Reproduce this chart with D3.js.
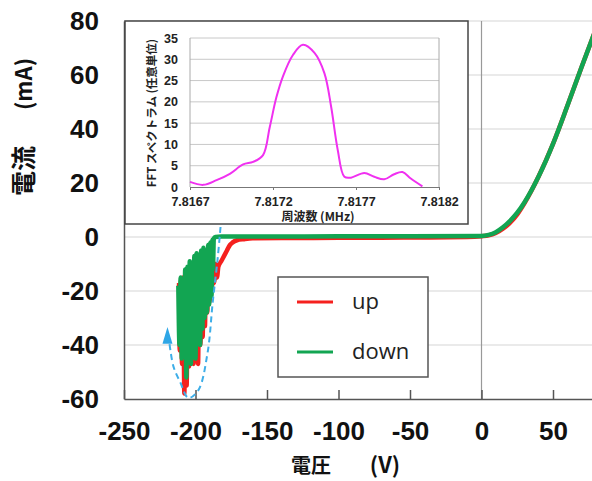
<!DOCTYPE html>
<html>
<head>
<meta charset="utf-8">
<script src="https://cdn.jsdelivr.net/npm/d3@7"></script>
<style>
  body { margin: 0; background: #fff; }
  svg { display: block; }
  .num { font-family: "Liberation Sans", Arial, sans-serif; font-weight: bold; }
  .jp { font-family: "Noto Sans CJK JP", sans-serif; }
</style>
</head>
<body>
<svg width="592" height="481"></svg>
<script>
// ---- data ----
const xTicks = [-250, -200, -150, -100, -50, 0, 50];
const yTicks = [-60, -40, -20, 0, 20, 40, 60, 80];

// "up" sweep (voltage V, current mA)
const upData = [
  [-211.5, -17], [-211, -42], [-210.2, -16], [-209.4, -47], [-208.6, -15], [-207.8, -58],
  [-207, -14], [-206.2, -55], [-205.4, -20], [-204.6, -48], [-203.8, -12], [-203, -44],
  [-202.2, -10], [-201.4, -47], [-200.6, -18], [-199.8, -45], [-199, -9], [-198.2, -47],
  [-197.4, -8], [-196.6, -40], [-195.8, -14], [-195, -37], [-194.2, -7], [-193.4, -33],
  [-192.6, -6], [-191.8, -28], [-191, -10], [-190.2, -24], [-189.4, -5], [-188.6, -20],
  [-187.8, -9], [-187, -17], [-186, -10], [-185, -15], [-184, -11], [-182, -9],
  [-180, -7], [-178, -5], [-176, -3], [-174, -2], [-171, -1.2], [-166, -0.8],
  [-160, -0.5], [-140, -0.4], [-100, -0.3], [-50, -0.2], [-10, 0], [0, 0.3],
  [5, 0.6], [10, 1.5], [15, 3.1], [20, 5.3], [25, 8.4], [30, 12.5], [40, 22.5],
  [50, 34.5], [60, 48.5], [70, 63], [80, 77]
];

// "down" sweep (voltage V, current mA)
const downData = [
  [-212, -18], [-211.2, -40], [-210.4, -15], [-209.6, -45], [-208.8, -22], [-208, -44],
  [-207.2, -12], [-206.4, -52], [-205.6, -11], [-204.8, -42], [-204, -9], [-203.2, -47],
  [-202.4, -16], [-201.6, -43], [-200.8, -7], [-200, -45], [-199.2, -6], [-198.4, -38],
  [-197.6, -12], [-196.8, -40], [-196, -5], [-195.2, -34], [-194.4, -4], [-193.6, -30],
  [-192.8, -9], [-192, -28], [-191.2, -3], [-190.4, -25], [-189.6, -2], [-188.8, -22],
  [-188.2, -1], [-187.8, -12], [-187.2, -0.5], [-186, 0], [-182, 0.2], [-150, 0.2],
  [-100, 0.25], [-50, 0.3], [0, 0.4], [5, 0.8], [10, 1.8], [15, 3.6], [20, 6],
  [25, 9], [30, 12.8], [40, 22.5], [50, 34.5], [60, 48.5], [70, 63], [80, 77]
];

// dashed annotation around the oscillation (V, mA)
const arrowPath = [
  [-182.5, 3.7], [-184.6, -8.5], [-188, -24.4], [-191.6, -43], [-198, -56.7],
  [-205, -59.6], [-210.5, -54], [-215.4, -48], [-218.3, -39]
];

// FFT inset
const fftTicksX = [7.8167, 7.8172, 7.8177, 7.8182];
const fftTicksY = [0, 5, 10, 15, 20, 25, 30, 35];
const fftFreq = [
  7.81670, 7.81678, 7.81686, 7.81694, 7.81702, 7.81708, 7.81714, 7.81718, 7.81722,
  7.81726, 7.81732, 7.81738, 7.81745, 7.81751, 7.81755, 7.81759, 7.81763, 7.81767,
  7.81775, 7.81781, 7.81787, 7.81793, 7.81798, 7.81803, 7.81810
];
const fftAmp = [
  1.2, 0.5, 1.6, 3.1, 5.3, 5.9, 7.5, 14, 21, 26, 31, 33.4, 31.5, 26.7, 18.9, 8.7,
  2.4, 2.2, 3.3, 2.4, 1.8, 3, 3.5, 2, 0.15
];

const svg = d3.select("svg");

// main scales
const x = d3.scaleLinear().domain([-250, 100]).range([124, 624.5]);
const y = d3.scaleLinear().domain([-60, 80]).range([399, 21]);

// gridlines
svg.append("g")
  .selectAll("line")
  .data(yTicks.filter(d => d > -60))
  .enter()
  .append("line")
  .attr("x1", 124).attr("x2", 592)
  .attr("y1", d => y(d)).attr("y2", d => y(d))
  .style("stroke", "#d6d6d6").style("stroke-width", 1.2);

// zero voltage line
svg.append("line")
  .attr("x1", x(0)).attr("x2", x(0))
  .attr("y1", y(80)).attr("y2", y(-60))
  .style("stroke", "#999").style("stroke-width", 1.2);

// axes
const xAxis = svg.append("g")
  .attr("transform", `translate(0,${y(-60)})`)
  .call(d3.axisBottom(x).tickValues(xTicks).tickSize(-9).tickPadding(23).tickSizeOuter(0)
    .tickFormat(d => String(d)));
xAxis.select(".domain").style("stroke", "#555").style("stroke-width", 1.5);
xAxis.selectAll(".tick line").style("stroke", "#555").style("stroke-width", 1.5);
xAxis.selectAll("text").attr("class", "num").style("font-size", "26px").style("fill", "#111");

const yAxis = svg.append("g")
  .attr("transform", `translate(${x(-250)},0)`)
  .call(d3.axisLeft(y).tickValues(yTicks).tickSize(0).tickPadding(25)
    .tickFormat(d => String(d)));
yAxis.select(".domain").style("stroke", "#555").style("stroke-width", 1.5);
yAxis.selectAll("text").attr("class", "num").style("font-size", "26px").style("fill", "#111");

// axis titles
svg.append("text")
  .attr("class", "jp")
  .attr("x", 311).attr("y", 473)
  .attr("text-anchor", "middle")
  .style("font-size", "20px").style("font-weight", "bold").style("fill", "#111")
  .text("電圧");
svg.append("text")
  .attr("class", "jp")
  .attr("x", 385).attr("y", 473)
  .attr("text-anchor", "middle")
  .style("font-size", "22px").style("font-weight", "bold").style("fill", "#111")
  .text("(V)");

svg.append("text")
  .attr("class", "jp")
  .attr("transform", "translate(33,171) rotate(-90)")
  .attr("text-anchor", "middle")
  .style("font-size", "25px").style("font-weight", "bold").style("fill", "#111")
  .text("電流");
svg.append("text")
  .attr("class", "jp")
  .attr("transform", "translate(32,84) rotate(-90)")
  .attr("text-anchor", "middle")
  .style("font-size", "22px").style("font-weight", "bold").style("fill", "#111")
  .text("(mA)");

// I-V curves
const line = d3.line()
  .x(d => x(d[0]))
  .y(d => y(d[1]))
  .curve(d3.curveMonotoneX);

svg.append("path")
  .datum(upData)
  .attr("d", line)
  .style("fill", "none").style("stroke", "#f5201e")
  .style("stroke-width", 4.5).style("stroke-linejoin", "round");

svg.append("path")
  .datum(downData)
  .attr("d", line)
  .style("fill", "none").style("stroke", "#12a552")
  .style("stroke-width", 4.5).style("stroke-linejoin", "round");

// dashed arrow
const arrowLine = d3.line()
  .x(d => x(d[0]))
  .y(d => y(d[1]))
  .curve(d3.curveCatmullRom);
svg.append("path")
  .datum(arrowPath)
  .attr("d", arrowLine)
  .style("fill", "none").style("stroke", "#3eaee8")
  .style("stroke-width", 2).style("stroke-dasharray", "6,4");

const tipX = x(-219.6), tipY = y(-33.3), baseY = y(-39.5);
svg.append("path")
  .attr("d", `M${tipX},${tipY}L${tipX - 5},${baseY}L${tipX + 5},${baseY}Z`)
  .style("fill", "#2ea6e6");

// legend
const legend = svg.append("g");
legend.append("rect")
  .attr("x", 278).attr("y", 277).attr("width", 150).attr("height", 100)
  .style("fill", "#fff").style("stroke", "#555").style("stroke-width", 1.5);
const legendItems = [["up", "#f5201e"], ["down", "#12a552"]];
legendItems.forEach((d, i) => {
  legend.append("line")
    .attr("x1", 297).attr("x2", 333)
    .attr("y1", 302 + i * 50).attr("y2", 302 + i * 50)
    .style("stroke", d[1]).style("stroke-width", 3);
  legend.append("text")
    .attr("x", 352).attr("y", 309 + i * 50)
    .style("font-family", "'Open Sans', sans-serif")
    .style("font-size", "22px").style("fill", "#222")
    .text(d[0]);
});

// ---- inset FFT ----
const inset = svg.append("g");
inset.append("rect")
  .attr("x", 125).attr("y", 21).attr("width", 343).attr("height", 203)
  .style("fill", "#fff").style("stroke", "#444").style("stroke-width", 1.5);

const ix = d3.scaleLinear().domain([7.8167, 7.8182]).range([190, 439]);
const iy = d3.scaleLinear().domain([0, 35]).range([187, 38]);

inset.append("g")
  .selectAll("line")
  .data(fftTicksY.filter(d => d > 0))
  .enter()
  .append("line")
  .attr("x1", ix.range()[0]).attr("x2", ix.range()[1])
  .attr("y1", d => iy(d)).attr("y2", d => iy(d))
  .style("stroke", "#c8c8c8").style("stroke-width", 1);

inset.append("line")
  .attr("x1", ix.range()[0]).attr("x2", ix.range()[0])
  .attr("y1", iy(35)).attr("y2", iy(0))
  .style("stroke", "#aaa");
inset.append("line")
  .attr("x1", ix.range()[1]).attr("x2", ix.range()[1])
  .attr("y1", iy(35)).attr("y2", iy(0))
  .style("stroke", "#aaa");

const ixAxis = inset.append("g")
  .attr("transform", `translate(0,${iy(0)})`)
  .call(d3.axisBottom(ix).tickValues(fftTicksX).tickSize(3).tickPadding(7).tickSizeOuter(0)
    .tickFormat(d3.format(".4f")));
ixAxis.select(".domain").style("stroke", "#777");
ixAxis.selectAll(".tick line").style("stroke", "#777");
ixAxis.selectAll("text").attr("class", "num").style("font-size", "12.5px").style("fill", "#222");

const iyAxis = inset.append("g")
  .attr("transform", `translate(${ix.range()[0]},0)`)
  .call(d3.axisLeft(iy).tickValues(fftTicksY).tickSize(0).tickPadding(12));
iyAxis.select(".domain").remove();
iyAxis.selectAll("text").attr("class", "num").style("font-size", "12.5px").style("fill", "#222");

inset.append("text")
  .attr("class", "jp")
  .attr("x", 318).attr("y", 221)
  .attr("text-anchor", "middle")
  .style("font-size", "12px").style("font-weight", "bold").style("fill", "#222")
  .text("周波数 (MHz)");

inset.append("text")
  .attr("class", "jp")
  .attr("transform", "translate(156,113) rotate(-90)")
  .attr("text-anchor", "middle")
  .style("font-size", "11.5px").style("font-weight", "bold").style("fill", "#222")
  .text("FFT スペクトラム (任意単位)");

const fftLine = d3.line()
  .x((d, i) => ix(fftFreq[i]))
  .y(d => iy(d))
  .curve(d3.curveCatmullRom);
inset.append("path")
  .datum(fftAmp)
  .attr("d", fftLine)
  .style("fill", "none").style("stroke", "#f030f0").style("stroke-width", 2);
</script>
</body>
</html>
